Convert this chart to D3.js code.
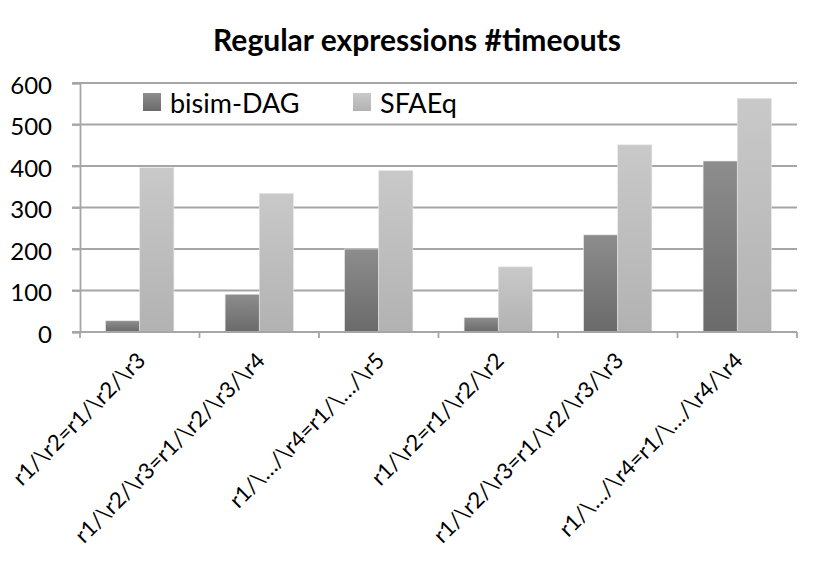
<!DOCTYPE html>
<html>
<head>
<meta charset="utf-8">
<script src="https://cdn.jsdelivr.net/npm/d3@7"></script>
<style>
  body { margin: 0; background: #fff; }
  text { font-family: Lato, "Open Sans", sans-serif; fill: #000; }
</style>
</head>
<body>
<svg id="chart" width="822" height="565"></svg>
<script>
"use strict";

var categories = ["r1/\\r2=r1/\\r2/\\r3", "r1/\\r2/\\r3=r1/\\r2/\\r3/\\r4", "r1/\\…/\\r4=r1/\\…/\\r5",
                  "r1/\\r2=r1/\\r2/\\r2", "r1/\\r2/\\r3=r1/\\r2/\\r3/\\r3", "r1/\\…/\\r4=r1/\\…/\\r4/\\r4"];
var seriesNames = ["bisim-DAG", "SFAEq"];
var bisimDag = [27, 91, 200, 35, 234, 412];
var sfaeq = [396, 334, 389, 157, 451, 563];
var yTicks = [0, 100, 200, 300, 400, 500, 600];

var svg = d3.select("#chart"),
    margin = {top: 83, left: 80, right: 25, bottom: 233},
    width = 822 - margin.left - margin.right,
    height = 565 - margin.top - margin.bottom,
    g = svg.append("g").attr("transform", "translate(" + margin.left + "," + margin.top + ")");

// gradients for the bars
var defs = svg.append("defs");
function grad(id, top, bottom) {
  var lg = defs.append("linearGradient").attr("id", id)
    .attr("x1", 0).attr("y1", 0).attr("x2", 0).attr("y2", 1);
  lg.append("stop").attr("offset", "0%").attr("stop-color", top);
  lg.append("stop").attr("offset", "100%").attr("stop-color", bottom);
}
grad("gDark", "#8d8d8d", "#6a6a6a");
grad("gLight", "#c9c9c9", "#b2b2b2");
var fills = ["url(#gDark)", "url(#gLight)"];

var x0 = d3.scaleBand().domain(categories).range([0, width]).paddingInner(0).paddingOuter(0);
var bw = x0.bandwidth() / 3.5;
var x1 = d3.scaleBand().domain(seriesNames).range([0, bw * 2]);
var y = d3.scaleLinear().domain([0, 600]).range([height, 0]);

// gridlines
g.append("g").attr("class", "grid")
  .selectAll("line").data(yTicks.filter(function(d) { return d > 0; }))
  .enter().append("line")
    .attr("x1", -8).attr("x2", width)
    .attr("y1", function(d) { return y(d); }).attr("y2", function(d) { return y(d); })
    .attr("stroke", "#a6a6a6").attr("stroke-width", 1.8);

// y axis
var yAxis = g.append("g")
  .call(d3.axisLeft(y).tickValues(yTicks).tickSize(8).tickPadding(20).tickFormat(d3.format("d")));
yAxis.select(".domain").attr("stroke", "#a6a6a6").attr("stroke-width", 1.8);
yAxis.selectAll(".tick line").attr("stroke", "#a6a6a6").attr("stroke-width", 1.8);
yAxis.selectAll(".tick text").attr("font-size", 24).attr("fill", "#000").attr("dy", "0.42em")
  .style("font-family", "Lato, sans-serif");

// bars
var groups = g.selectAll(".cat").data(categories).enter().append("g")
  .attr("class", "cat")
  .attr("transform", function(d) { return "translate(" + (x0(d) + (x0.bandwidth() - bw * 2) / 2) + ",0)"; });

groups.selectAll("rect")
  .data(function(d, i) { return [{s: seriesNames[0], v: bisimDag[i], k: 0}, {s: seriesNames[1], v: sfaeq[i], k: 1}]; })
  .enter().append("rect")
    .attr("x", function(d) { return x1(d.s); })
    .attr("width", x1.bandwidth())
    .attr("y", function(d) { return y(d.v); })
    .attr("height", function(d) { return height - y(d.v); })
    .attr("fill", function(d) { return fills[d.k]; })
    .attr("stroke", "#e6e6e6").attr("stroke-width", 0.6);

// x axis with ticks at band boundaries
var xAxisG = g.append("g").attr("transform", "translate(0," + height + ")");
xAxisG.append("line").attr("x1", -8).attr("x2", width).attr("y1", 0).attr("y2", 0)
  .attr("stroke", "#a6a6a6").attr("stroke-width", 1.8);
var bounds = categories.map(function(d) { return x0(d); }).concat([width]);
xAxisG.selectAll(".xt").data(bounds).enter().append("line")
  .attr("x1", function(d) { return d; }).attr("x2", function(d) { return d; })
  .attr("y1", 0).attr("y2", 6)
  .attr("stroke", "#a6a6a6").attr("stroke-width", 1.8);

xAxisG.selectAll(".xl").data(categories).enter().append("text")
  .attr("class", "xl")
  .attr("text-anchor", "end")
  .attr("font-size", 22)
  .attr("transform", function(d) { return "translate(" + (x0(d) + x0.bandwidth() / 2 + 7) + ",30) rotate(-45)"; })
  .text(function(d) { return d; });

// title
svg.append("text")
  .attr("x", 417).attr("y", 51)
  .attr("text-anchor", "middle")
  .attr("font-size", 30).attr("font-weight", "bold")
  .text("Regular expressions #timeouts");

// legend
var legendX = [143, 353];
var legend = svg.selectAll(".legend").data(seriesNames).enter().append("g")
  .attr("class", "legend")
  .attr("transform", function(d, i) { return "translate(" + legendX[i] + ",93)"; });
legend.append("rect").attr("width", 18).attr("height", 18)
  .attr("fill", function(d, i) { return fills[i]; });
legend.append("text").attr("x", 27).attr("y", 20).attr("font-size", 27)
  .text(function(d) { return d; });
</script>
</body>
</html>
